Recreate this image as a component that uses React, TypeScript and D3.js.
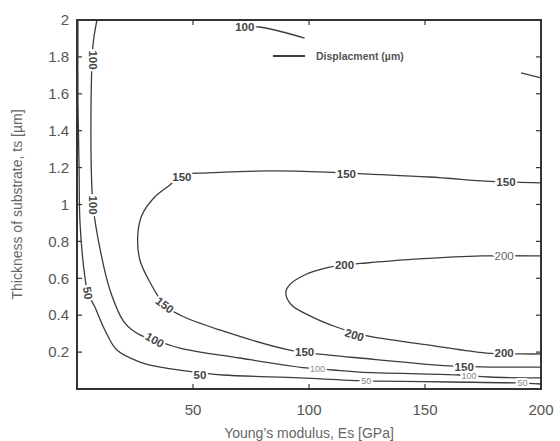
import React from "react";
import * as d3 from "d3";

const width = 560;
const height = 441;
const margin = { top: 20, right: 18, bottom: 52, left: 77 };

// axis ticks
const xTicks = [50, 100, 150, 200];
const yTicks = [0.2, 0.4, 0.6, 0.8, 1, 1.2, 1.4, 1.6, 1.8, 2];

// contour lines, [Es (GPa), ts (um)]
const contour50: [number, number][] = [
  [0.4, 2.0], [0.4, 1.57], [0.9, 1.19], [1.3, 0.9], [3.4, 0.607], [4.7, 0.52],
  [7.7, 0.444], [12, 0.32], [17.2, 0.211], [27.1, 0.146], [37.8, 0.114],
  [50.8, 0.092], [62.8, 0.076], [95.9, 0.06], [124.7, 0.043], [130.3, 0.043],
  [160.4, 0.038], [189.2, 0.033], [200, 0.027],
];
const contour100: [number, number][] = [
  [8.6, 2.0], [6.9, 1.865], [6.0, 1.458], [6.45, 1.079], [6.9, 0.997],
  [8.6, 0.846], [14.2, 0.537], [20.6, 0.358], [27.1, 0.293], [33.5, 0.266],
  [44.3, 0.222], [70.1, 0.168], [98.9, 0.114], [110.1, 0.103], [121.7, 0.092],
  [164.7, 0.076], [177.6, 0.065], [200, 0.06],
];
const contour100Top: [number, number][] = [
  [70.5, 1.962], [78.7, 1.962], [98.1, 1.902],
];
const contourRightEdge: [number, number][] = [
  [191.4, 1.713], [200, 1.686],
];
const contour150: [number, number][] = [
  [200, 1.117], [184.9, 1.122], [176.3, 1.127], [151.8, 1.149], [126, 1.165],
  [107.5, 1.176], [83, 1.182], [56.3, 1.171], [45, 1.158], [39.5, 1.1],
  [33.5, 1.041], [28, 0.943], [26.2, 0.835], [27.1, 0.699], [31.4, 0.58],
  [37.8, 0.455], [44.3, 0.401], [61.5, 0.32], [91.6, 0.211], [108.8, 0.184],
  [121.7, 0.168], [160.4, 0.125], [177.6, 0.119], [200, 0.119],
];
const contour200: [number, number][] = [
  [200, 0.721], [174.6, 0.721], [147.5, 0.705], [124.7, 0.683], [115.3, 0.672],
  [107.5, 0.656], [98.1, 0.618], [91.6, 0.564], [90, 0.52], [92.5, 0.455],
  [101.5, 0.39], [111.8, 0.336], [119.6, 0.304], [127.3, 0.282], [151.8, 0.238],
  [176.3, 0.195], [192.7, 0.19], [200, 0.19],
];
const contours = [contour50, contour100, contour100Top, contourRightEdge, contour150, contour200];

// contour labels: text, Es, ts, rotation, weight kind
const contourLabels: { text: string; e: number; t: number; rot: number; kind?: "small" | "light" }[] = [
  { text: "100", e: 6.9, t: 1.783, rot: 90 },
  { text: "100", e: 6.9, t: 0.997, rot: 90 },
  { text: "50", e: 4.7, t: 0.52, rot: 80 },
  { text: "100", e: 72.3, t: 1.962, rot: 0 },
  { text: "150", e: 45.2, t: 1.149, rot: 0 },
  { text: "150", e: 37.8, t: 0.455, rot: 38 },
  { text: "100", e: 33.5, t: 0.266, rot: 30 },
  { text: "50", e: 53, t: 0.078, rot: 0 },
  { text: "150", e: 116.1, t: 1.165, rot: 0 },
  { text: "150", e: 184.9, t: 1.122, rot: 0 },
  { text: "200", e: 115.3, t: 0.672, rot: 0 },
  { text: "200", e: 119.6, t: 0.293, rot: 18 },
  { text: "200", e: 184.1, t: 0.721, rot: 0, kind: "light" },
  { text: "200", e: 184.1, t: 0.195, rot: 0 },
  { text: "150", e: 98.1, t: 0.201, rot: 0 },
  { text: "150", e: 166.9, t: 0.119, rot: 0 },
  { text: "100", e: 103.7, t: 0.108, rot: 0, kind: "small" },
  { text: "100", e: 169, t: 0.07, rot: 0, kind: "small" },
  { text: "50", e: 124.7, t: 0.043, rot: 0, kind: "small" },
  { text: "50", e: 192, t: 0.033, rot: 0, kind: "small" },
];

const legendLabel = "Displacment (\u00b5m)";
const xTitle = "Young\u2019s modulus, Es [GPa]";
const yTitle = "Thickness of substrate, ts [\u00b5m]";

const font = "'Liberation Sans', Arial, sans-serif";
const ink = "#3c3c3c";

export default function App() {
  const x = d3.scaleLinear().domain([0, 200]).range([margin.left, width - margin.right - 1]);
  const y = d3.scaleLinear().domain([0, 2]).range([height - margin.bottom, margin.top]);
  const line = d3
    .line<[number, number]>()
    .x((d) => x(d[0]))
    .y((d) => y(d[1]))
    .curve(d3.curveCatmullRom.alpha(0.5));

  const x0 = x(0);
  const x1 = x(200);
  const y0 = y(0);
  const y1 = y(2);

  return (
    <svg
      width={width}
      height={height}
      style={{ position: "absolute", left: 0, top: 0, background: "#fff" }}
      fontFamily={font}
    >
      <defs>
        <clipPath id="plot">
          <rect x={x0} y={y1} width={x1 - x0} height={y0 - y1} />
        </clipPath>
      </defs>

      <g clipPath="url(#plot)">
        {contours.map((c, i) => (
          <path key={i} d={line(c) || ""} fill="none" stroke={ink} strokeWidth={1.3} />
        ))}
      </g>

      {contourLabels.map((l, i) => (
        <text
          key={i}
          transform={`translate(${x(l.e)},${y(l.t)}) rotate(${l.rot})`}
          textAnchor="middle"
          dy="0.36em"
          fontSize={l.kind === "small" ? 9 : 11.5}
          fontWeight={l.kind ? "normal" : "bold"}
          fill={l.kind === "small" ? "#888" : l.kind === "light" ? "#666" : "#444"}
          stroke="#fff"
          strokeWidth={4}
          paintOrder="stroke"
        >
          {l.text}
        </text>
      ))}

      {/* frame */}
      <rect x={x0} y={y1} width={x1 - x0} height={y0 - y1} fill="none" stroke="#333" strokeWidth={2} />

      {/* ticks */}
      {xTicks.slice(0, -1).map((t) => (
        <g key={"xt" + t}>
          <line x1={x(t)} x2={x(t)} y1={y0} y2={y0 - 5} stroke="#333" strokeWidth={1.2} />
          <line x1={x(t)} x2={x(t)} y1={y1} y2={y1 + 5} stroke="#333" strokeWidth={1.2} />
        </g>
      ))}
      {yTicks.slice(0, -1).map((t) => (
        <g key={"yt" + t}>
          <line x1={x0} x2={x0 + 5} y1={y(t)} y2={y(t)} stroke="#333" strokeWidth={1.2} />
          <line x1={x1} x2={x1 - 5} y1={y(t)} y2={y(t)} stroke="#333" strokeWidth={1.2} />
        </g>
      ))}

      {/* tick labels */}
      {xTicks.map((t) => (
        <text key={"xl" + t} x={x(t)} y={y0 + 26} textAnchor="middle" fontSize={15} fill="#555">
          {t}
        </text>
      ))}
      {yTicks.map((t) => (
        <text key={"yl" + t} x={x0 - 8} y={y(t)} dy="0.35em" textAnchor="end" fontSize={15} fill="#555">
          {d3.format("~g")(t)}
        </text>
      ))}

      {/* axis titles */}
      <text x={(x0 + x1) / 2} y={height - 3} textAnchor="middle" fontSize={14} fill="#666">
        {xTitle}
      </text>
      <text
        transform={`translate(22,${(y0 + y1) / 2}) rotate(-90)`}
        textAnchor="middle"
        fontSize={14}
        fill="#666"
      >
        {yTitle}
      </text>

      {/* legend */}
      <line x1={273} x2={305} y1={56} y2={56} stroke={ink} strokeWidth={2} />
      <text x={316} y={56} dy="0.35em" fontSize={10.5} fontWeight="bold" fill="#555">
        {legendLabel}
      </text>
    </svg>
  );
}
